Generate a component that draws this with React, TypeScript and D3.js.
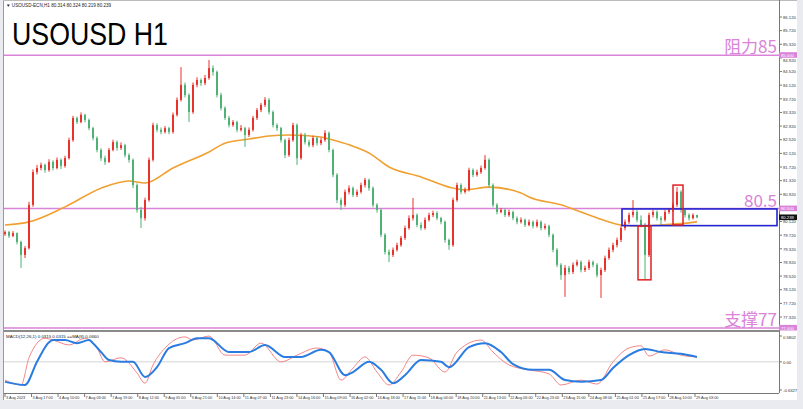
import * as d3 from 'd3'

const W = 803
const H = 409

// hourly USOUSD candles (opens follow previous close)
const firstOpen = 79.75
const closes = [
  79.81, 79.70, 79.78, 79.52, 79.14, 79.34, 80.61, 81.57, 81.69, 81.78,
  81.63, 81.87, 81.69, 81.93, 81.75, 81.98, 82.51, 83.16, 83.04, 83.25,
  83.10, 82.86, 82.57, 82.22, 81.98, 81.87, 82.22, 82.45, 82.28, 82.36,
  82.07, 81.93, 81.19, 80.46, 80.22, 80.75, 81.93, 82.95, 82.81, 82.75,
  82.86, 82.75, 83.25, 83.69, 84.13, 83.83, 83.33, 84.13, 84.27, 84.18,
  84.33, 84.62, 84.51, 83.83, 83.45, 83.16, 82.95, 83.04, 82.81, 82.86,
  82.66, 82.81, 83.16, 83.39, 83.54, 83.69, 83.33, 82.95, 82.86, 82.51,
  82.07, 82.51, 82.95, 81.98, 82.66, 82.45, 82.36, 82.57, 82.42, 82.51,
  82.72, 82.22, 81.49, 80.75, 80.61, 80.99, 81.10, 80.90, 80.99, 81.19,
  81.34, 81.10, 80.61, 80.46, 79.73, 79.23, 79.14, 79.29, 79.43, 79.64,
  79.93, 80.22, 80.31, 80.02, 79.93, 80.17, 80.31, 80.37, 80.22, 80.11,
  79.58, 79.43, 80.75, 81.19, 80.99, 81.05, 81.63, 81.49, 81.57, 81.69,
  81.93, 81.19, 80.61, 80.40, 80.46, 80.31, 80.40, 80.22, 80.11, 80.17,
  80.02, 80.11, 79.99, 80.11, 79.93, 79.99, 79.73, 79.29, 78.85, 78.55,
  78.76, 78.64, 78.85, 78.93, 78.70, 78.76, 78.93, 78.85, 78.55, 78.70,
  79.05, 79.29, 79.43, 79.58, 79.93, 80.11, 80.31, 80.40, 80.17, 80.02,
  79.14, 80.31, 80.40, 80.22, 80.17, 80.40, 80.46, 80.61, 80.99, 80.46,
  80.31, 80.22, 80.31, 80.24,
]
const highs = [
  79.86, 79.85, 79.84, 79.80, 79.56, 79.40, 80.70, 81.65, 81.78, 81.85,
  81.82, 81.95, 81.92, 82.00, 81.97, 82.05, 82.58, 83.22, 83.20, 83.32,
  83.28, 83.14, 82.90, 82.62, 82.27, 82.05, 82.28, 82.52, 82.50, 82.44,
  82.40, 82.12, 81.97, 81.24, 80.55, 80.82, 82.00, 83.02, 83.00, 82.88,
  82.92, 82.90, 83.32, 83.76, 84.65, 84.20, 83.88, 84.20, 84.35, 84.32,
  84.42, 84.86, 84.70, 84.55, 83.90, 83.50, 83.22, 83.10, 83.08, 82.95,
  82.90, 82.88, 83.22, 83.45, 83.60, 83.77, 83.74, 83.38, 83.00, 82.90,
  82.55, 82.58, 83.02, 83.00, 82.72, 82.72, 82.52, 82.64, 82.62, 82.58,
  82.80, 82.76, 82.26, 81.54, 80.82, 81.06, 81.18, 81.15, 81.06, 81.26,
  81.40, 81.38, 81.15, 80.66, 80.50, 79.78, 79.30, 79.36, 79.50, 79.70,
  80.00, 80.30, 80.81, 80.36, 80.10, 80.24, 80.38, 80.44, 80.42, 80.26,
  80.15, 79.62, 80.82, 81.26, 81.24, 81.12, 81.70, 81.68, 81.64, 81.76,
  82.07, 81.98, 81.24, 80.66, 80.52, 80.50, 80.47, 80.44, 80.27, 80.24,
  80.21, 80.18, 80.15, 80.18, 80.15, 80.06, 80.03, 79.77, 79.34, 78.90,
  78.84, 78.82, 78.92, 79.00, 78.98, 78.83, 79.00, 78.98, 78.90, 78.77,
  79.12, 79.36, 79.50, 79.65, 80.00, 80.18, 80.38, 80.75, 80.46, 80.30,
  80.08, 80.38, 80.47, 80.45, 80.28, 80.46, 80.52, 80.68, 81.13, 81.04,
  80.50, 80.36, 80.36, 80.32,
]
const lows = [
  79.70, 79.64, 79.66, 79.45, 78.76, 79.05, 79.30, 80.55, 81.50, 81.62,
  81.55, 81.58, 81.62, 81.65, 81.66, 81.70, 81.94, 82.46, 82.98, 83.00,
  83.03, 82.80, 82.50, 82.15, 81.90, 81.78, 81.84, 82.18, 82.20, 82.22,
  82.00, 81.85, 81.10, 80.38, 79.93, 80.15, 80.70, 81.88, 82.74, 82.68,
  82.70, 82.68, 82.70, 83.20, 83.64, 83.76, 83.04, 83.28, 84.06, 84.10,
  84.12, 84.28, 84.40, 83.76, 83.38, 83.10, 82.88, 82.90, 82.74, 82.76,
  82.31, 82.60, 82.76, 83.10, 83.33, 83.48, 83.26, 82.88, 82.78, 82.44,
  81.98, 82.02, 82.46, 81.78, 81.93, 82.38, 82.30, 82.30, 82.35, 82.36,
  82.46, 82.15, 81.42, 80.66, 80.46, 80.55, 80.92, 80.84, 80.84, 80.94,
  81.12, 81.02, 80.54, 80.38, 79.66, 79.15, 78.93, 79.08, 79.24, 79.38,
  79.58, 79.88, 80.15, 79.95, 79.86, 79.88, 80.12, 80.25, 80.16, 80.04,
  79.50, 79.29, 79.38, 80.70, 80.92, 80.94, 81.00, 81.42, 81.44, 81.52,
  81.64, 81.12, 80.54, 80.33, 80.36, 80.25, 80.26, 80.16, 80.04, 80.06,
  79.96, 79.98, 79.92, 79.94, 79.86, 79.88, 79.66, 79.22, 78.78, 78.41,
  77.91, 78.57, 78.58, 78.80, 78.63, 78.64, 78.70, 78.78, 78.48, 77.88,
  78.64, 79.00, 79.22, 79.36, 79.52, 79.86, 80.05, 80.24, 80.10, 79.95,
  78.41, 79.08, 80.24, 80.15, 80.02, 80.12, 80.34, 80.40, 80.55, 80.38,
  80.24, 80.15, 80.18, 80.22,
]

// moving average (orange), read at some bars
const maBars = [0, 6, 15, 24, 31, 35, 42, 51, 55, 61, 66, 71, 79, 81, 86, 91, 96, 104, 111, 115, 121, 129, 131, 139, 144, 149, 154, 159, 164, 171, 173]
const maValues = [80.02, 80.11, 80.55, 81.10, 81.31, 81.25, 81.69, 82.16, 82.42, 82.54, 82.63, 82.66, 82.60, 82.54, 82.37, 82.13, 81.72, 81.43, 81.13, 81.05, 81.13, 80.96, 80.84, 80.61, 80.40, 80.19, 80.02, 79.99, 80.02, 80.08, 80.11]

// MACD pane
const macdBars = [0, 5, 8, 11, 12, 15, 18, 21, 22, 24, 26, 29, 32, 35, 38, 41, 45, 48, 51, 56, 61, 65, 70, 74, 79, 81, 85, 87, 91, 94, 97, 100, 104, 109, 111, 116, 120, 124, 127, 132, 136, 140, 144, 149, 152, 156, 160, 164, 169, 173]
const macdMain = [-0.45, -0.52, 0.00, 0.44, 0.49, 0.49, 0.42, 0.49, 0.42, 0.22, 0.04, 0.00, 0.00, -0.34, -0.12, 0.31, 0.42, 0.53, 0.53, 0.22, 0.22, 0.38, 0.11, 0.11, 0.27, 0.22, -0.30, -0.23, 0.00, -0.18, -0.48, -0.30, 0.04, 0.00, -0.12, 0.33, 0.42, 0.22, -0.05, -0.18, -0.18, -0.41, -0.45, -0.41, -0.14, 0.15, 0.29, 0.22, 0.18, 0.11]
const signalBars = [0, 4, 6, 10, 12, 16, 20, 23, 25, 29, 33, 35, 37, 40, 45, 47, 51, 55, 60, 64, 69, 73, 78, 81, 84, 87, 90, 93, 96, 99, 102, 106, 110, 113, 119, 122, 126, 131, 136, 139, 144, 148, 152, 156, 159, 161, 165, 169, 173]
const signalValues = [-0.41, -0.52, 0.09, 0.53, 0.49, 0.38, 0.53, 0.31, 0.00, 0.09, -0.25, -0.48, -0.07, 0.31, 0.56, 0.49, 0.58, 0.15, 0.15, 0.42, 0.00, 0.15, 0.31, 0.22, -0.41, -0.14, 0.11, -0.23, -0.52, -0.23, 0.15, 0.09, -0.23, 0.22, 0.49, 0.22, -0.07, -0.18, -0.27, -0.52, -0.41, -0.50, 0.00, 0.31, 0.36, 0.13, 0.27, 0.15, 0.11]

const timeLabels = ['3 Aug 2023', '3 Aug 17:00', '4 Aug 10:00', '7 Aug 03:00', '7 Aug 19:00', '8 Aug 12:00', '9 Aug 05:00', '9 Aug 21:00', '10 Aug 14:00', '11 Aug 07:00', '11 Aug 23:00', '14 Aug 16:00', '15 Aug 09:00', '16 Aug 02:00', '16 Aug 18:00', '17 Aug 11:00', '18 Aug 04:00', '18 Aug 20:00', '21 Aug 13:00', '22 Aug 06:00', '22 Aug 23:00', '23 Aug 15:00', '24 Aug 08:00', '25 Aug 01:00', '25 Aug 17:00', '28 Aug 10:00', '29 Aug 03:00']
// 80.520 sits under the 80.500 tag in the original, so it is not listed
const priceTicks = [86.12, 85.72, 85.32, 84.92, 84.52, 84.12, 83.72, 83.32, 82.92, 82.52, 82.12, 81.72, 81.32, 80.92, 80.12, 79.72, 79.32, 78.92, 78.52, 78.12, 77.72, 77.32]
const macdTicks = [0.5802, 0, -0.6327]

const levelPrices = [85, 80.5, 77]
const levelTexts = ['阻力85', '80.5', '支撑77']
const lastPrice = 80.239

// annotation boxes: [barFrom, barTo, priceTop, priceBottom]
const blueBox = [154.25, 193, 80.49, 80.0]
const redBoxes = [
  [158.25, 161.5, 79.99, 78.41],
  [167, 169.5, 81.19, 80.02],
]

const UP = '#e8322c'
const DOWN = '#4fb173'
const PINK = '#d983d9'
const FONT = 'Liberation Sans, Arial, sans-serif'

export default function App() {
  const x = d3.scaleLinear().domain([0, closes.length - 1]).range([5, 697])
  const y = d3.scaleLinear().domain([77.32, 86.12]).range([317, 17])
  const ym = d3.scaleLinear().domain([-0.6327, 0.5802]).range([390, 336])
  const xt = d3.scalePoint<string>().domain(timeLabels).range([x(0), x(172.5)])

  const candles = closes.map((c, i) => ({
    i,
    o: i === 0 ? firstOpen : closes[i - 1],
    c,
    h: highs[i],
    l: lows[i],
  }))

  const maLine = d3.line<number>()
    .x((_, k) => x(maBars[k]))
    .y(v => y(v))
    .curve(d3.curveMonotoneX)
  const macdLine = d3.line<number>()
    .x((_, k) => x(macdBars[k]))
    .y(v => ym(v))
    .curve(d3.curveMonotoneX)
  const sigLine = d3.line<number>()
    .x((_, k) => x(signalBars[k]))
    .y(v => ym(v))
    .curve(d3.curveMonotoneX)

  const right = 779
  const tagTop = (p: number) => y(p) - 3
  // tick label nudged clear of a tag right above it
  const tickY = (p: number) => {
    const near = levelPrices.find(l => Math.abs(y(l) - y(p)) < 5)
    return near !== undefined ? y(near) + 6.5 : y(p) + 1.7
  }

  return (
    <div style={{ position: 'fixed', left: 0, top: 0 }}>
      <svg width={W} height={H} style={{ display: 'block' }}>
        <rect width={W} height={H} fill="#e9ebf0" />
        <rect x={3} y={0} width={794} height={400} fill="#fff" />
        <line x1={3.5} y1={0} x2={3.5} y2={400} stroke="#9a9a9a" />
        <line x1={3} y1={0.5} x2={797} y2={0.5} stroke="#bbb" />

        {/* header */}
        <text x={6} y={7} fontSize={4.6} fill="#222" fontFamily={FONT}>▼ USOUSD-ECN,H1  80.314 80.324 80.219 80.239</text>
        <text x={12} y={45} fontSize={31} fill="#000" fontFamily={FONT} textLength={156} lengthAdjust="spacingAndGlyphs">USOUSD H1</text>

        {/* level lines */}
        {levelPrices.map((p, k) => (
          <line key={'lv' + k} x1={4} x2={right} y1={y(p)} y2={y(p)} stroke={PINK} strokeWidth={1.5} />
        ))}

        {/* moving average */}
        <path d={maLine(maValues) || ''} fill="none" stroke="#f0a030" strokeWidth={1.6} />

        {/* candles */}
        {candles.map(d => {
          const col = d.c >= d.o ? UP : DOWN
          const top = y(Math.max(d.o, d.c))
          const bh = Math.max(1, Math.abs(y(d.o) - y(d.c)))
          return (
            <g key={d.i}>
              <line x1={x(d.i)} x2={x(d.i)} y1={y(d.h)} y2={y(d.l)} stroke={col} strokeWidth={1} />
              <rect x={x(d.i) - 1} y={top} width={2} height={bh} fill={col} />
            </g>
          )
        })}

        {/* boxes */}
        <rect x={x(blueBox[0])} y={y(blueBox[2])} width={x(blueBox[1]) - x(blueBox[0])} height={y(blueBox[3]) - y(blueBox[2])}
          fill="none" stroke="#2424d0" strokeWidth={1.6} />
        {redBoxes.map((b, k) => (
          <rect key={'rb' + k} x={x(b[0])} y={y(b[2])} width={x(b[1]) - x(b[0])} height={y(b[3]) - y(b[2])}
            fill="none" stroke="#e02020" strokeWidth={1.5} />
        ))}

        {/* level texts */}
        {levelPrices.map((p, k) => (
          <text key={'lt' + k} x={777} y={y(p) - 2} textAnchor="end" fontSize={17} fill={PINK}
            fontFamily="Noto Sans CJK SC, Liberation Sans, sans-serif">{levelTexts[k]}</text>
        ))}

        {/* MACD pane */}
        <line x1={4} x2={right} y1={331} y2={331} stroke="#8a8a8a" strokeWidth={2} />
        <line x1={4} x2={right} y1={ym(0)} y2={ym(0)} stroke="#d4d4d4" />
        <path d={sigLine(signalValues) || ''} fill="none" stroke="#f07a7a" strokeWidth={0.9} />
        <path d={macdLine(macdMain) || ''} fill="none" stroke="#2a7ce0" strokeWidth={2} />
        <text x={6} y={338} fontSize={4.4} fill="#222" fontFamily={FONT}>MACD(12,26,1) 0.0315 0.0315 ==MA(8) 0.0660</text>

        {/* right axis */}
        <line x1={right + 0.5} x2={right + 0.5} y1={0} y2={393} stroke="#777" />
        {priceTicks.map(p => (
          <g key={'pt' + p}>
            <line x1={right} x2={right + 3} y1={y(p)} y2={y(p)} stroke="#777" />
            <text x={right + 4} y={tickY(p)} fontSize={4.2} fill="#333" fontFamily={FONT}>{p.toFixed(3)}</text>
          </g>
        ))}
        {macdTicks.map(v => (
          <g key={'mt' + v}>
            <line x1={right} x2={right + 3} y1={ym(v)} y2={ym(v)} stroke="#777" />
            <text x={right + 4} y={v > 0 ? ym(v) + 3 : ym(v) + 1.7} fontSize={4.2} fill="#333" fontFamily={FONT}>{v === 0 ? '0.00' : v.toFixed(4)}</text>
          </g>
        ))}
        {levelPrices.map((p, k) => (
          <g key={'tag' + k}>
            <rect x={right} y={tagTop(p)} width={18} height={5.6} fill={PINK} />
            <text x={right + 2} y={y(p) + 1.6} fontSize={4.2} fill="#fff" fontFamily={FONT}>{p.toFixed(3)}</text>
          </g>
        ))}
        <rect x={right} y={tagTop(lastPrice)} width={18} height={5.6} fill="#111" />
        <text x={right + 2} y={y(lastPrice) + 1.6} fontSize={4.2} fill="#fff" fontFamily={FONT}>{lastPrice.toFixed(3)}</text>

        {/* bottom axis */}
        <line x1={4} x2={right} y1={393.5} y2={393.5} stroke="#777" />
        {timeLabels.map(t => (
          <g key={t}>
            <line x1={xt(t)!} x2={xt(t)!} y1={393} y2={397} stroke="#777" />
            <text x={(xt(t) as number) + 1} y={399} fontSize={3.8} fill="#333" fontFamily={FONT}>{t}</text>
          </g>
        ))}
      </svg>
    </div>
  )
}
